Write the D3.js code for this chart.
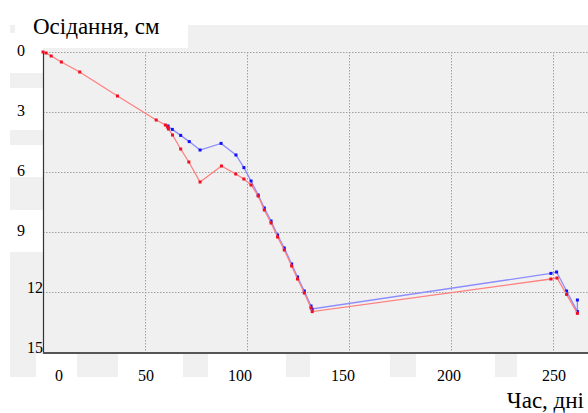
<!DOCTYPE html>
<html>
<head>
<meta charset="utf-8">
<script src="https://cdn.jsdelivr.net/npm/d3@7"></script>
</head>
<body>
<div id="chart"></div>
<script>
  // settlement over time, two measuring points
  const redDays = [0, 1.5, 4, 9, 18, 36.5, 55.5, 60, 61, 61.5, 63.5, 67.5, 71.5, 77, 87.5, 94.5, 98.5, 102, 105.5, 108.5, 111.8, 115, 118.3, 121.9, 124.8, 128.1, 131.4, 132, 249, 252, 256.7, 262];
  const redVals = [0, 0.05, 0.2, 0.5, 1.0, 2.2, 3.4, 3.65, 3.75, 3.85, 4.15, 4.85, 5.5, 6.5, 5.7, 6.1, 6.35, 6.65, 7.2, 7.9, 8.55, 9.25, 9.9, 10.7, 11.35, 12.05, 12.8, 12.98, 11.35, 11.3, 12.12, 13.07];
  const blueDays = [61.3, 63.4, 67.5, 71.7, 77, 87.3, 94.6, 98.5, 102, 105.5, 108.5, 111.8, 115, 118.3, 121.9, 124.8, 128.1, 131.4, 131.9, 249, 251.8, 256.7, 262, 262];
  const blueVals = [3.7, 3.87, 4.17, 4.48, 4.9, 4.57, 5.15, 5.78, 6.45, 7.15, 7.8, 8.45, 9.15, 9.8, 10.6, 11.25, 11.95, 12.7, 12.85, 11.07, 11.0, 11.95, 12.98, 12.4];
  const xTicks = [50, 100, 150, 200, 250];
  const xLabels = [0, 50, 100, 150, 200, 250];
  const xLabelShift = [16, 1, -7, -6, -2, 1];
  const yTicks = [0, 3, 6, 9, 12, 15];

  const W = 588, H = 413;
  const m = {left: 43, top: 52, right: 588, bottom: 352};

  d3.select("body").style("margin", "0px");

  const svg = d3.select("#chart").append("svg")
      .attr("width", W).attr("height", H)
      .style("display", "block");

  const x = d3.scaleLinear().domain([0, 267.2]).range([m.left, m.right]);
  const y = d3.scaleLinear().domain([0, 15]).range([m.top, m.bottom]);

  // grey backdrop with white label boxes cut into it
  svg.append("rect").attr("x", 10).attr("y", 25).attr("width", W - 10).attr("height", 352)
      .attr("fill", "#f0f0f0");
  const whiteBoxes = [
    [15, 0, 173, 48],
    [10, 33, 33, 40], [10, 88, 33, 42], [10, 145, 33, 32], [10, 210, 33, 42],
    [36, 354, 41, 23], [118, 354, 65, 23], [208, 354, 78, 23],
    [310, 354, 80, 23], [416, 354, 79, 23], [517, 354, 71, 23]
  ];
  svg.selectAll("rect.wb").data(whiteBoxes).join("rect")
      .attr("class", "wb")
      .attr("x", d => d[0]).attr("y", d => d[1])
      .attr("width", d => d[2]).attr("height", d => d[3])
      .attr("fill", "#fff");

  // grid
  const grid = svg.append("g").attr("stroke", "#a0a0a0").attr("stroke-width", 1)
      .attr("stroke-dasharray", "1.5,1.5");
  grid.selectAll("line.h").data(yTicks.slice(0, -1)).join("line")
      .attr("class", "h")
      .attr("x1", m.left).attr("x2", m.right)
      .attr("y1", d => y(d) + 0.5).attr("y2", d => y(d) + 0.5);
  grid.selectAll("line.v").data(xTicks).join("line")
      .attr("class", "v")
      .attr("x1", d => Math.round(x(d)) + 0.5).attr("x2", d => Math.round(x(d)) + 0.5)
      .attr("y1", m.top).attr("y2", m.bottom);

  // axes lines
  svg.append("line").attr("x1", m.left + 0.5).attr("x2", m.left + 0.5)
      .attr("y1", m.top).attr("y2", m.bottom + 1)
      .attr("stroke", "#333").attr("stroke-width", 1.2);
  svg.append("line").attr("x1", m.left).attr("x2", m.right)
      .attr("y1", m.bottom + 1).attr("y2", m.bottom + 1)
      .attr("stroke", "#555").attr("stroke-width", 2);

  // texts
  const texts = [
    ...yTicks.map(d => ({ t: String(d), x: d < 10 ? 17 : 43, y: d < 10 ? y(d) + 4 : y(d) + 1, a: d < 10 ? "start" : "end", s: 16 })),
    ...xLabels.map((d, i) => ({ t: String(d), x: x(d) + xLabelShift[i], y: 381, a: "middle", s: 16 })),
    { t: "Осідання, см", x: 33, y: 34, a: "start", s: 23 },
    { t: "Час, дні", x: 584, y: 408, a: "end", s: 23 }
  ];
  svg.append("g").selectAll("text").data(texts).join("text")
      .attr("x", d => d.x).attr("y", d => d.y)
      .attr("text-anchor", d => d.a)
      .attr("font-family", "Times New Roman")
      .attr("font-size", d => d.s)
      .attr("fill", "#000")
      .style("font-family", "Tinos, 'Times New Roman', 'Liberation Serif', Times")
      .text(d => d.t);

  const line = d3.line().x(d => x(d[0])).y(d => y(d[1]));
  const series = [
    { pts: d3.zip(blueDays, blueVals), line: "#8c8cff", dot: "#1010ff" },
    { pts: d3.zip(redDays, redVals), line: "#ff8080", dot: "#ee1020" }
  ];

  series.forEach(s => {
    svg.append("path").datum(s.pts)
        .attr("fill", "none").attr("stroke", s.line).attr("stroke-width", 1.3)
        .attr("d", line);
    svg.append("g").selectAll("rect").data(s.pts).join("rect")
        .attr("x", d => x(d[0]) - 1.5).attr("y", d => y(d[1]) - 1.5)
        .attr("width", 3).attr("height", 3)
        .attr("fill", s.dot);
  });
</script>
</body>
</html>
